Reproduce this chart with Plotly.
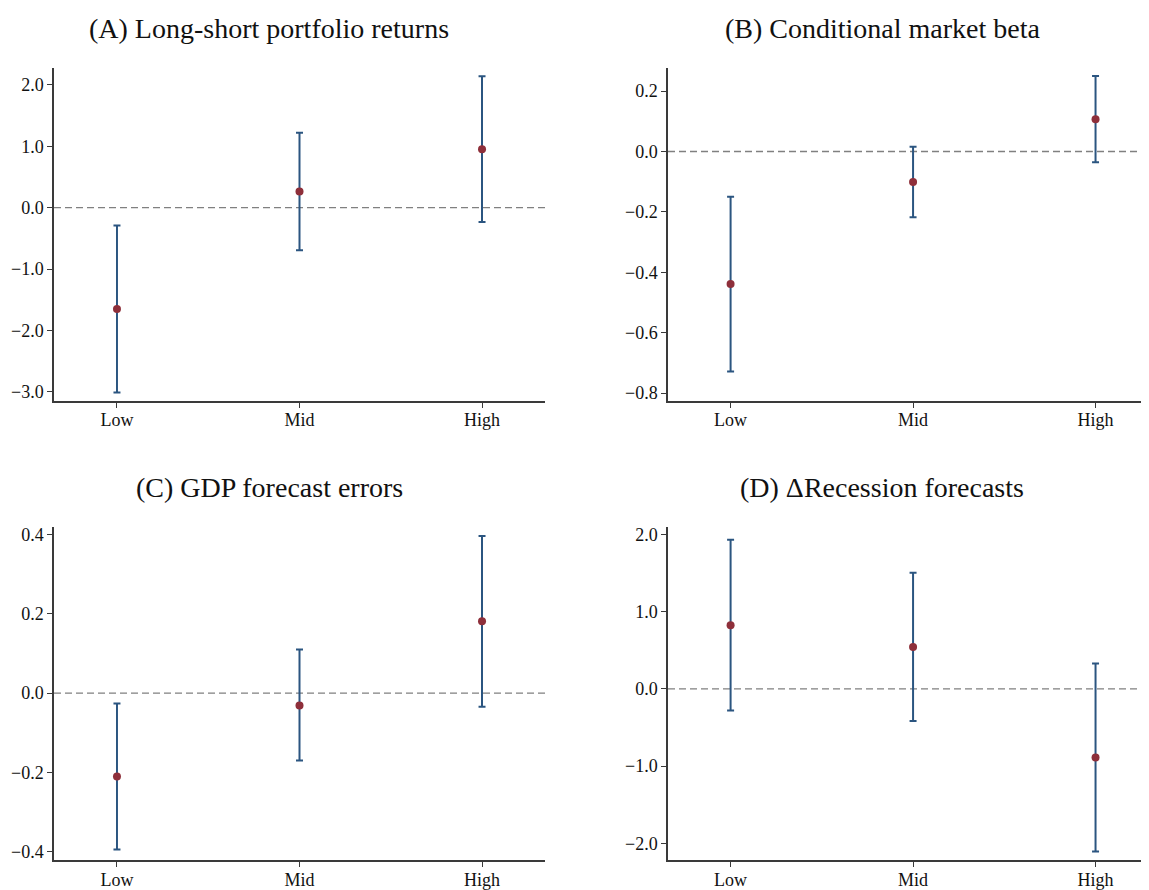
import plotly.graph_objects as go

categories = ["Low", "Mid", "High"]

titles = [
    "(A) Long-short portfolio returns",
    "(B) Conditional market beta",
    "(C) GDP forecast errors",
    "(D) \u0394Recession forecasts",
]

est_a = [-1.65, 0.263, 0.95]
lo_a = [-3.01, -0.694, -0.232]
hi_a = [-0.29, 1.22, 2.14]

est_b = [-0.439, -0.101, 0.107]
lo_b = [-0.729, -0.218, -0.036]
hi_b = [-0.150, 0.0154, 0.25]

est_c = [-0.21, -0.031, 0.181]
lo_c = [-0.394, -0.17, -0.034]
hi_c = [-0.026, 0.11, 0.396]

est_d = [0.824, 0.544, -0.888]
lo_d = [-0.279, -0.417, -2.107]
hi_d = [1.934, 1.506, 0.33]

yticks_a = [-3.0, -2.0, -1.0, 0.0, 1.0, 2.0]
yticks_b = [-0.8, -0.6, -0.4, -0.2, 0.0, 0.2]
yticks_c = [-0.4, -0.2, 0.0, 0.2, 0.4]
yticks_d = [-2.0, -1.0, 0.0, 1.0, 2.0]

panels = [
    (est_a, lo_a, hi_a, yticks_a, [-3.145, 2.28]),
    (est_b, lo_b, hi_b, yticks_b, [-0.826, 0.278]),
    (est_c, lo_c, hi_c, yticks_c, [-0.421, 0.419]),
    (est_d, lo_d, hi_d, yticks_d, [-2.22, 2.10]),
]

# page body has an 8px default margin, so work in page pixels minus 8
OFF = 8
W, H = 1149 - OFF, 890 - OFF
# pixel boxes in page coords (left, right, top, bottom)
boxes = [
    (54, 545, 66, 402),
    (668, 1149, 66, 402),
    (54, 545, 529, 865),
    (668, 1149, 529, 865),
]
title_pos = [(269, 27), (882, 27), (269, 489), (882, 489)]
xranges = [[-0.345, 2.345], [-0.343, 2.293], [-0.345, 2.345], [-0.343, 2.293]]

BAR = "#2b5580"
DOT = "#8e2f3a"
AX = "#3a3a3a"
FONT = "Liberation Serif"
TICKSIZE = 18

fig = go.Figure()
layout = dict(
    width=W, height=H,
    margin=dict(l=0, r=0, t=0, b=0),
    paper_bgcolor="white", plot_bgcolor="white",
    showlegend=False,
    font=dict(family=FONT, size=TICKSIZE, color="#111"),
    shapes=[], annotations=[],
)

for i, (est, lo, hi, yt, yr) in enumerate(panels):
    n = i + 1
    xa = "x" if n == 1 else f"x{n}"
    ya = "y" if n == 1 else f"y{n}"
    xs = list(range(len(categories)))
    fig.add_trace(go.Scatter(
        x=xs, y=est, mode="markers",
        xaxis=xa, yaxis=ya,
        marker=dict(color=DOT, size=8, line=dict(width=0)),
        error_y=dict(type="data", symmetric=False,
                     array=[h - e for h, e in zip(hi, est)],
                     arrayminus=[e - l for e, l in zip(est, lo)],
                     color=BAR, thickness=2, width=3.5),
    ))
    l, r, t, b = [v - OFF for v in boxes[i]]
    r = min(r, W)
    xkey = "xaxis" if n == 1 else f"xaxis{n}"
    ykey = "yaxis" if n == 1 else f"yaxis{n}"
    layout[xkey] = dict(
        domain=[l / W, r / W], anchor=ya, range=xranges[i],
        tickmode="array", tickvals=xs, ticktext=categories,
        showgrid=False, zeroline=False, showline=True, linecolor=AX, linewidth=1.5,
        ticks="outside", ticklen=5, tickwidth=1.2, tickcolor=AX,
        tickfont=dict(family=FONT, size=TICKSIZE, color="#111"),
        ticklabelstandoff=-3,
    )
    layout[ykey] = dict(
        domain=[(H - b) / H, (H - t) / H], anchor=xa, range=yr,
        tickmode="array", tickvals=yt, tickformat=".1f",
        showgrid=False, zeroline=False, showline=True, linecolor=AX, linewidth=1.5,
        ticks="outside", ticklen=5, tickwidth=1.2, tickcolor=AX,
        tickfont=dict(family=FONT, size=TICKSIZE, color="#111"),
    )
    layout["shapes"].append(dict(
        type="line", xref=f"{xa} domain", yref=ya, x0=0, x1=1, y0=0, y1=0,
        line=dict(color="#808080", width=1.3, dash="7px,4px"), layer="below",
    ))
    tx, ty = title_pos[i]
    layout["annotations"].append(dict(
        text=titles[i], xref="paper", yref="paper",
        x=(tx - OFF) / W, y=1 - (ty - OFF) / H,
        xanchor="center", yanchor="middle", showarrow=False,
        font=dict(family=FONT, size=28, color="#111"),
    ))

fig.update_layout(**layout)
fig.write_html("out.html")
